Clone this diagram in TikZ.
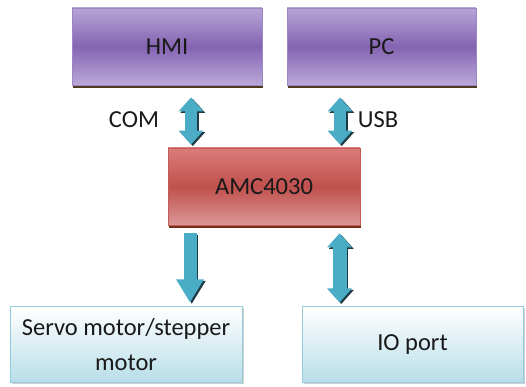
\documentclass[tikz,border=0pt]{standalone}
\usepackage{fontspec}
\setmainfont{Carlito}
\usetikzlibrary{arrows.meta,shadows}
\definecolor{purpT}{HTML}{B7A5D6}
\definecolor{purpM}{HTML}{8464B2}
\definecolor{purpB}{HTML}{BBA9D9}
\definecolor{purpD}{HTML}{9C87C4}
\definecolor{redT}{HTML}{DA7C7B}
\definecolor{redM}{HTML}{C0504D}
\definecolor{redB}{HTML}{DB9796}
\definecolor{redD}{HTML}{C65A57}
\definecolor{bluT}{HTML}{FFFFFF}
\definecolor{bluB}{HTML}{B7DDE8}
\definecolor{bluD}{HTML}{93CDDD}
\definecolor{arr}{HTML}{4BACC6}
\definecolor{arrL}{HTML}{7CC6DA}
\definecolor{arrS}{HTML}{1E3A44}
\definecolor{shad}{HTML}{4E3B1E}
\tikzset{
  txt/.style={font=\fontsize{24.5}{35}\selectfont, text=black!90, inner sep=0pt},
  purpbox/.style={txt, draw=purpD, line width=0.8pt, top color=purpT, bottom color=purpB, middle color=purpM,
    drop shadow={shadow xshift=0.5pt, shadow yshift=-3pt, fill=shad, opacity=1}},
  redbox/.style={txt, draw=redD, line width=0.8pt, top color=redT, bottom color=redB, middle color=redM,
    drop shadow={shadow xshift=0.5pt, shadow yshift=-3pt, fill=shad!80!red, opacity=1}},
  blubox/.style={txt, draw=bluD, line width=1pt, top color=bluT, bottom color=bluB,
    drop shadow={shadow xshift=1.5pt, shadow yshift=-1.5pt, fill=gray!60, opacity=0.6}},
  fatone/.style={line width=13pt, -{Triangle[width=26pt,length=23pt]}},
  fattwo/.style={line width=#1, {Triangle[width=24pt,length=14pt]}-{Triangle[width=24pt,length=14pt]}},
  fattwo/.default=12pt,
}
\begin{document}
\begin{tikzpicture}[x=1pt,y=1pt]
\useasboundingbox (0,0) rectangle (526,387);
\node[purpbox, minimum width=190pt, minimum height=77pt] (hmi) at (167,340.5) {HMI};
\node[purpbox, minimum width=189pt, minimum height=77pt] (pc) at (381.5,340.5) {PC};
\node[redbox, minimum width=192pt, minimum height=77pt] (amc) at (264,200.5) {AMC4030};
\node[blubox, minimum width=232pt, minimum height=76pt, align=center] (servo) at (126,42) {Servo motor/stepper\\motor};
\node[blubox, minimum width=221pt, minimum height=76pt] (io) at (412.5,42) {IO port};
\coordinate (comx) at (191,0);
\coordinate (usbx) at (340,0);
\coordinate (downx) at (190,0);
\coordinate (iox) at (339.5,0);
% shadows of arrows
\begin{scope}[transform canvas={shift={(1.8pt,-1.5pt)}}]
\draw[fattwo, arrS, shorten <=12pt, shorten >=3pt] (hmi.south -| comx) -- (amc.north -| comx);
\draw[fattwo, arrS, shorten <=12pt, shorten >=3pt] (pc.south -| usbx) -- (amc.north -| usbx);
\draw[fatone, arrS, shorten <=8pt, shorten >=4pt] (amc.south -| downx) -- (servo.north -| downx);
\draw[fattwo=14pt, arrS, shorten <=8pt, shorten >=4pt] (amc.south -| iox) -- (io.north -| iox);
\end{scope}
\draw[fattwo, arr, shorten <=12pt, shorten >=3pt] (hmi.south -| comx) -- (amc.north -| comx);
\draw[fattwo, arr, shorten <=12pt, shorten >=3pt] (pc.south -| usbx) -- (amc.north -| usbx);
\draw[fatone, arr, shorten <=8pt, shorten >=4pt] (amc.south -| downx) -- (servo.north -| downx);
\draw[fattwo=14pt, arr, shorten <=8pt, shorten >=4pt] (amc.south -| iox) -- (io.north -| iox);
\node[txt] (com) at (134,267) {COM};
\node[txt] (usb) at (378,267) {USB};
\end{tikzpicture}
\end{document}
